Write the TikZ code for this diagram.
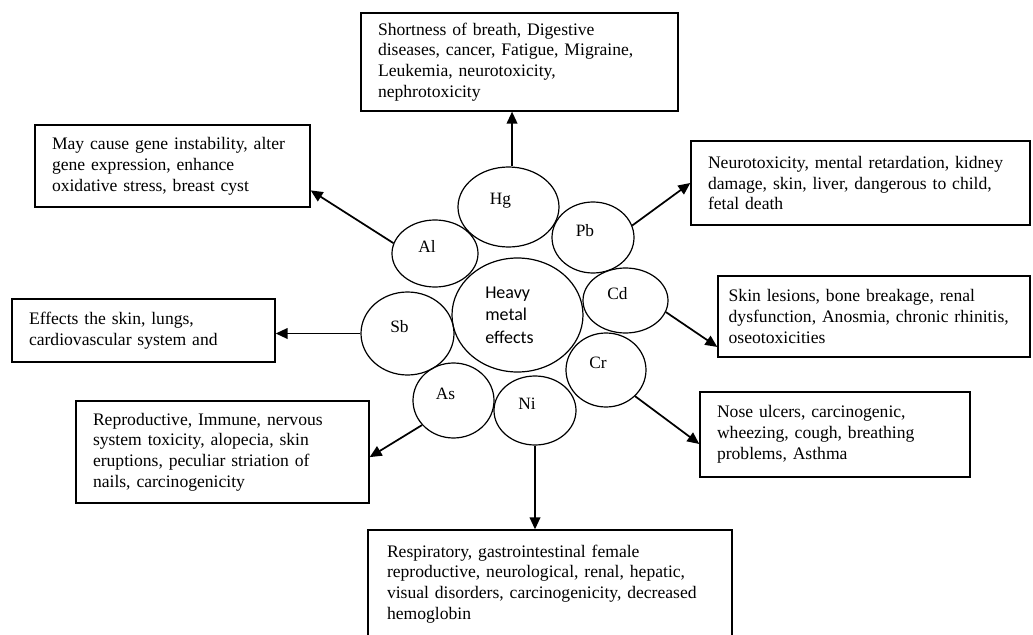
\documentclass[tikz,border=0pt]{standalone}
\usepackage{fontspec}
\setmainfont{Liberation Serif}
\newfontfamily\calibri{Carlito}
\usepackage{tikz}
\usetikzlibrary{shapes.geometric,arrows.meta}
\tikzset{
  metal/.style={ellipse, draw, line width=0.9pt, inner sep=0pt,
    label={[font=\fontsize{13}{15}\selectfont, xshift=-6pt, yshift=5pt]center:#1}},
  effect/.style={rectangle, draw, line width=1pt, align=left, inner xsep=12.75pt,
    inner ysep=0pt, font=\fontsize{13.2}{15.6}\selectfont},
  link/.style={-{Triangle[length=9pt,width=8pt]}, line width=1.3pt}
}

\begin{document}
\begin{tikzpicture}[x=0.75pt,y=-0.75pt]
      \useasboundingbox (0,0) rectangle (1033,635);

      \coordinate (C) at (517.5,315);
      \coordinate (Hg) at (508.5,207);
      \coordinate (Pb) at (593,237.5);
      \coordinate (Al) at (435,253.5);
      \coordinate (Cd) at (625.5,300.5);
      \coordinate (Sb) at (407.5,333.5);
      \coordinate (Cr) at (606,370);
      \coordinate (As) at (453.5,400.5);
      \coordinate (Ni) at (535,410.5);

      \coordinate (Hgb) at (519.5,62);
      \coordinate (Alb) at (172.5,166);
      \coordinate (Pbb) at (860.5,183);
      \coordinate (Cdb) at (874,316.5);
      \coordinate (Sbb) at (143.5,330.5);
      \coordinate (Asb) at (222.5,452);
      \coordinate (Crb) at (835,434.5);
      \coordinate (Nib) at (550,584);

      \node[ellipse, draw, line width=0.9pt, minimum width=98.25pt, minimum height=85.5pt,
        align=left, font=\calibri\fontsize{13.5}{17}\selectfont] (heavy) at (C)
        {Heavy\\metal\\effects\hspace*{12pt}};

      \node[metal=Hg, minimum width=75.75pt, minimum height=60pt] (hg) at (Hg) {};
      \node[metal=Pb, minimum width=61.5pt, minimum height=53.25pt] (pb) at (Pb) {};
      \node[metal=Al, minimum width=64.5pt, minimum height=50.25pt] (al) at (Al) {};
      \node[metal=Cd, minimum width=63.75pt, minimum height=48.75pt] (cd) at (Cd) {};
      \node[metal=Sb, minimum width=69.75pt, minimum height=62.25pt] (sb) at (Sb) {};
      \node[metal=Cr, minimum width=60pt, minimum height=55.5pt] (cr) at (Cr) {};
      \node[metal=As, minimum width=60.75pt, minimum height=56.25pt] (as) at (As) {};
      \node[metal=Ni, minimum width=61.5pt, minimum height=51.75pt] (ni) at (Ni) {};

      \node[effect, text width=212.25pt, minimum height=73.5pt] (hgbox) at (Hgb)
        {Shortness of breath, Digestive\\diseases, cancer, Fatigue, Migraine,\\Leukemia, neurotoxicity,\\nephrotoxicity};
      \node[effect, text width=180.75pt, minimum height=61.5pt] (albox) at (Alb)
        {May cause gene instability, alter\\gene expression, enhance\\oxidative stress, breast cyst};
      \node[effect, text width=228.75pt, minimum height=63pt] (pbbox) at (Pbb)
        {Neurotoxicity, mental retardation, kidney\\damage, skin, liver, dangerous to child,\\fetal death};
      \node[effect, inner xsep=8pt, text width=218pt, minimum height=60.75pt] (cdbox) at (Cdb)
        {Skin lesions, bone breakage, renal\\dysfunction, Anosmia, chronic rhinitis,\\oseotoxicities};
      \node[effect, text width=171.75pt, minimum height=47.25pt] (sbbox) at (Sbb)
        {Effects the skin, lungs,\\cardiovascular system and};
      \node[effect, text width=194.25pt, minimum height=76.5pt] (asbox) at (Asb)
        {Reproductive, Immune, nervous\\system toxicity, alopecia, skin\\eruptions, peculiar striation of\\nails, carcinogenicity};
      \node[effect, text width=177pt, minimum height=63.75pt] (crbox) at (Crb)
        {Nose ulcers, carcinogenic,\\wheezing, cough, breathing\\problems, Asthma};
      \node[effect, inner xsep=14.25pt, text width=244.5pt, minimum height=81pt] (nibox) at (Nib)
        {Respiratory, gastrointestinal female\\reproductive, neurological, renal, hepatic,\\visual disorders, carcinogenicity, decreased\\hemoglobin};

      \draw[link] (hg.85) -- (hg.85 |- hgbox.south);
      \draw[link] (al.166) -- (albox.-10);
      \draw[link] (pb.17) -- (pbbox.west);
      \draw[link] (cd.-16) -- (cdbox.191);
      \draw[link] (sb.west) -- (sb.west -| sbbox.east);
      \draw[link] (as.218) -- (asbox.-2);
      \draw[link] (ni.south) -- (ni.south |- nibox.north);
      \draw[link] (cr.-42) -- (crbox.184);
\end{tikzpicture}
\end{document}
